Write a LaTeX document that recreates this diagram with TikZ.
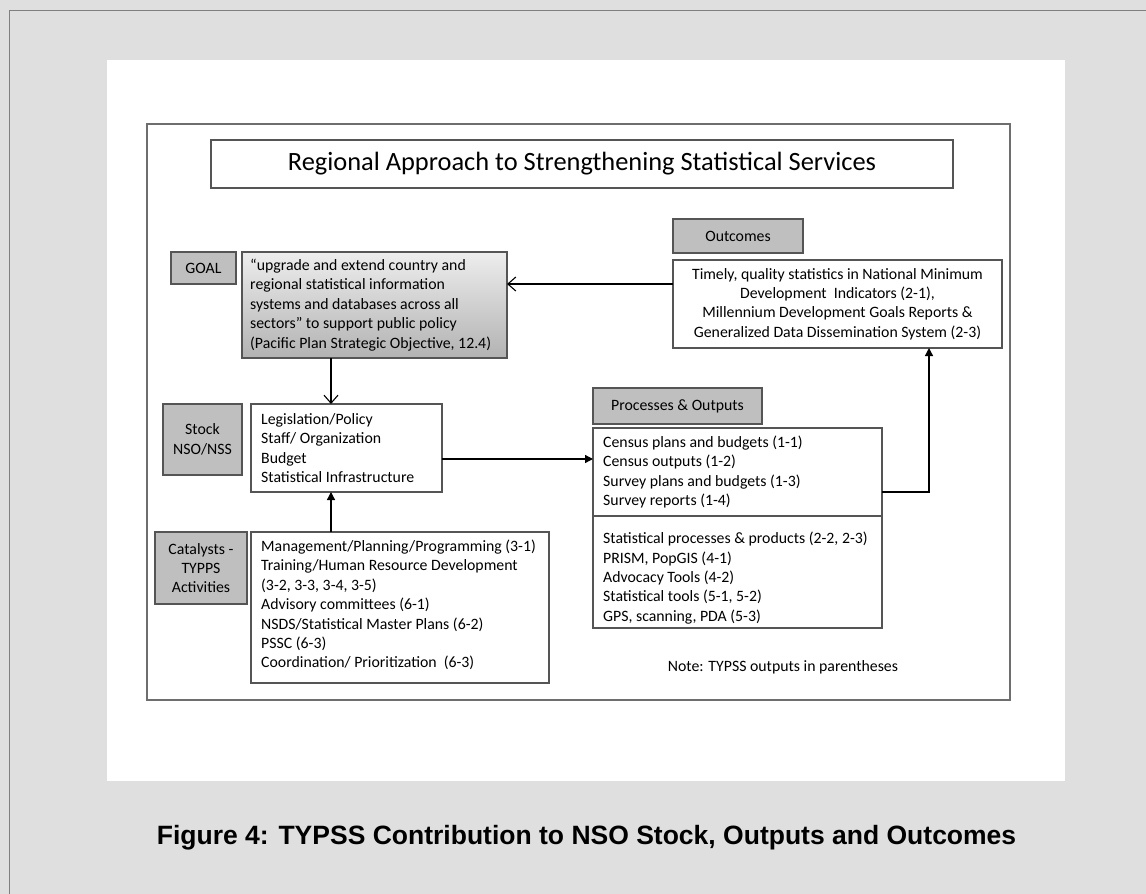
\documentclass[tikz,border=0pt]{standalone}
\usepackage{fontspec}
\setmainfont{Carlito}
\newfontfamily\capfont{Liberation Sans}
\usetikzlibrary{arrows.meta}
\definecolor{bggray}{HTML}{DFDFDF}
\definecolor{lblgray}{HTML}{BFBFBF}
\definecolor{edgegray}{HTML}{555555}
\definecolor{framegray}{HTML}{6E6E6E}
\definecolor{outergray}{HTML}{7F7F7F}
\newcommand{\bodyfont}{\fontsize{15.8}{19.4}\selectfont}
\tikzset{
 lbl/.style={draw=edgegray, fill=lblgray, line width=1.2pt, anchor=north west, inner sep=0pt, outer sep=0pt, align=center, font=\bodyfont},
 boxshape/.style={draw=edgegray, fill=white, line width=1.2pt, anchor=north west, inner sep=0pt, outer sep=0pt},
 boxtext/.style={anchor=west, inner sep=0pt, align=left, font=\bodyfont},
 openarrow/.style={-{Straight Barb[length=8pt,width=14pt]}, line width=1.1pt},
 fillarrow/.style={-{Triangle[length=8pt,width=8pt]}, line width=1.3pt},
}
\begin{document}
\begin{tikzpicture}[x=1pt,y=-1pt]
\fill[bggray] (0,0) rectangle (1146,894);
\useasboundingbox (0,0) rectangle (1146,894);
\draw[outergray, line width=1.5pt] (9.5,894) -- (9.5,10.5) -- (1146,10.5);
\fill[white] (107,60) rectangle (1065,781);
\draw[framegray, line width=1.2pt] (147,124) rectangle (1010,700);

% title
\node[boxshape, align=center, minimum width=742pt, minimum height=48pt, font=\fontsize{26.4}{31}\selectfont] (title) at (211,140) {Regional Approach to Strengthening Statistical Services};

% goal
\node[lbl, minimum width=65pt, minimum height=32pt] (goallbl) at (171,252) {GOAL};
\node[boxshape, fill=none, top color=white!93!black, bottom color=black!30, minimum width=265pt, minimum height=106pt] (goalbox) at (242,252) {};
\node[boxtext] (goaltext) at (250,305) {“upgrade and extend country and\\regional statistical information\\systems and databases across all\\sectors” to support public policy\\(Pacific Plan Strategic Objective, 12.4)};

% outcomes
\node[lbl, minimum width=130pt, minimum height=34pt] (outlbl) at (673,219) {Outcomes};
\node[boxshape, align=center, font=\bodyfont, minimum width=329pt, minimum height=88pt] (outbox) at (673,260) {Timely, quality statistics in National Minimum\\Development~ Indicators (2-1),\\Millennium Development Goals Reports \&\\Generalized Data Dissemination System (2-3)};

% stock
\node[lbl, minimum width=79pt, minimum height=71pt] (stocklbl) at (163,404) {Stock\\NSO/NSS};
\node[boxshape, minimum width=191pt, minimum height=88pt] (stockbox) at (251,404) {};
\node[boxtext] (stocktext) at (261,448) {Legislation/Policy\\Staff/ Organization\\Budget\\Statistical Infrastructure};

% catalysts
\node[lbl, minimum width=92pt, minimum height=72pt] (catlbl) at (155,532) {Catalysts -\\TYPPS\\Activities};
\node[boxshape, minimum width=298pt, minimum height=151pt] (catbox) at (251,532) {};
\node[boxtext] (cattext) at (261,605) {Management/Planning/Programming (3-1)\\Training/Human Resource Development\\(3-2, 3-3, 3-4, 3-5)\\Advisory committees (6-1)\\NSDS/Statistical Master Plans (6-2)\\PSSC (6-3)\\Coordination/ Prioritization~ (6-3)};

% processes
\node[lbl, minimum width=169pt, minimum height=36pt] (proclbl) at (593,388) {Processes \& Outputs};
\node[boxshape, minimum width=289pt, minimum height=88pt] (procA) at (593,428) {};
\node[boxshape, minimum width=289pt, minimum height=112pt] (procB) at (593,516) {};
\node[boxtext] (procAtext) at (603,472) {Census plans and budgets (1-1)\\Census outputs (1-2)\\Survey plans and budgets (1-3)\\Survey reports (1-4)};
\node[boxtext] (procBtext) at (603,578) {Statistical processes \& products (2-2, 2-3)\\PRISM, PopGIS (4-1)\\Advocacy Tools (4-2)\\Statistical tools (5-1, 5-2)\\GPS, scanning, PDA (5-3)};

% note and caption
\node[font=\bodyfont, inner sep=0pt] (note) at (783,667) {Note: TYPSS outputs in parentheses};
\node[font=\capfont\bfseries\fontsize{26.5}{30}\selectfont, anchor=base, inner sep=0pt] (caption) at (586.5,844.3) {Figure 4: TYPSS Contribution to NSO Stock, Outputs and Outcomes};

% connectors
\coordinate (ya) at (0,284);
\coordinate (xa) at (331,0);
\coordinate (xb) at (929,0);
\coordinate (yb) at (0,459);
\coordinate (yc) at (0,492);
\draw[openarrow] (outbox.west |- ya) -- (goalbox.east |- ya);
\draw[openarrow] (goalbox.south -| xa) -- (stockbox.north -| xa);
\draw[fillarrow] (stockbox.east |- yb) -- (procA.west |- yb);
\draw[fillarrow] (catbox.north -| xa) -- (stockbox.south -| xa);
\draw[fillarrow] (procA.east |- yc) -| (outbox.south -| xb);
\end{tikzpicture}
\end{document}
